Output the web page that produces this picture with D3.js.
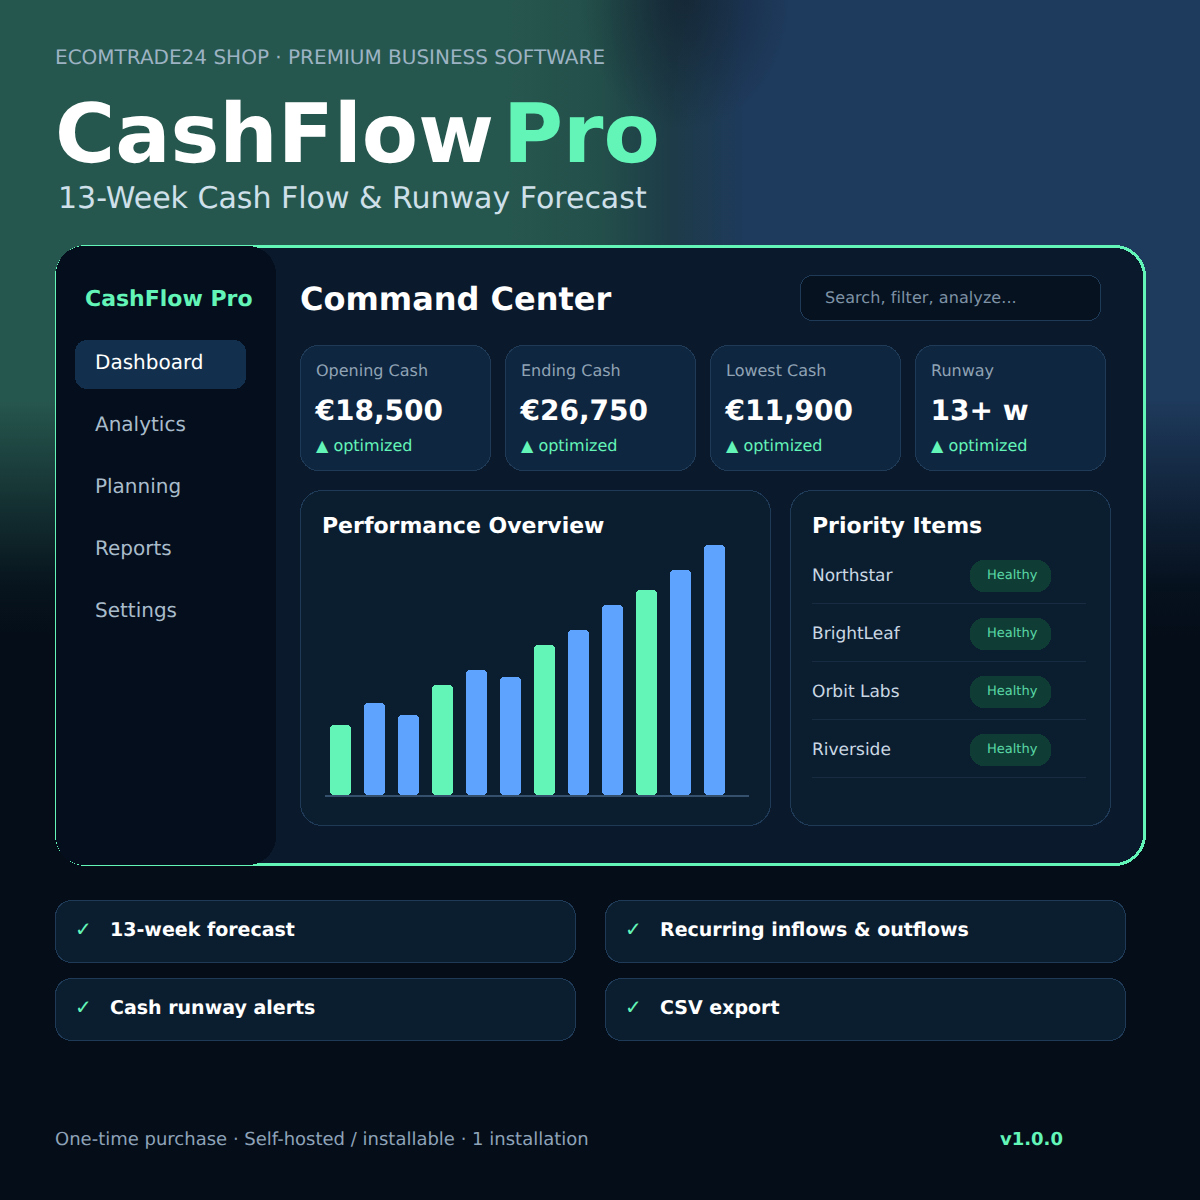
<!DOCTYPE html>
<html>
<head>
<meta charset="utf-8">
<script src="https://cdn.jsdelivr.net/npm/d3@7"></script>
<style>
  html, body { margin: 0; padding: 0; background: #040d18; }
  svg { display: block; }
  text { font-family: "DejaVu Sans", sans-serif; text-rendering: geometricPrecision; }
  rect, line { shape-rendering: crispEdges; }
</style>
</head>
<body>
<div id="chart"></div>
<script>
/**
 * Data
 */
const weeks = ["W1", "W2", "W3", "W4", "W5", "W6", "W7", "W8", "W9", "W10", "W11", "W12"];
const barValues = [70, 92, 80, 110, 125, 118, 150, 165, 190, 205, 225, 250];
const greenWeeks = ["W1", "W4", "W7", "W10"];
const navItems = ["Dashboard", "Analytics", "Planning", "Reports", "Settings"];
const kpiLabels = ["Opening Cash", "Ending Cash", "Lowest Cash", "Runway"];
const kpiValues = ["€18,500", "€26,750", "€11,900", "13+ w"];
const priorityNames = ["Northstar", "BrightLeaf", "Orbit Labs", "Riverside"];
const features = ["13-week forecast", "Recurring inflows & outflows", "Cash runway alerts", "CSV export"];

const green = "#63f4b8";
const blue = "#5ea4ff";
const border = "#1e3a56";

const svg = d3.select("#chart").append("svg")
  .attr("width", 1200)
  .attr("height", 1200);

/**
 * Background
 */
const defs = svg.append("defs");

const sideGrad = defs.append("linearGradient").attr("id", "bgSide");
sideGrad.append("stop").attr("offset", "0").attr("stop-color", "#26574e");
sideGrad.append("stop").attr("offset", "0.42").attr("stop-color", "#26574e");
sideGrad.append("stop").attr("offset", "0.5").attr("stop-color", "#234f4a");
sideGrad.append("stop").attr("offset", "0.56").attr("stop-color", "#1d3b48");
sideGrad.append("stop").attr("offset", "0.62").attr("stop-color", "#1e3a5c");
sideGrad.append("stop").attr("offset", "1").attr("stop-color", "#1e3a5c");

const fadeGrad = defs.append("linearGradient").attr("id", "bgFade")
  .attr("x1", 0).attr("x2", 0).attr("y1", 0).attr("y2", 1);
fadeGrad.append("stop").attr("offset", "0").attr("stop-color", "#040d18").attr("stop-opacity", 0);
fadeGrad.append("stop").attr("offset", "0.333").attr("stop-color", "#040d18").attr("stop-opacity", 0);
fadeGrad.append("stop").attr("offset", "0.433").attr("stop-color", "#040d18").attr("stop-opacity", 0.6);
fadeGrad.append("stop").attr("offset", "0.489").attr("stop-color", "#040d18").attr("stop-opacity", 0.91);
fadeGrad.append("stop").attr("offset", "0.533").attr("stop-color", "#040d18").attr("stop-opacity", 1);
fadeGrad.append("stop").attr("offset", "1").attr("stop-color", "#040d18").attr("stop-opacity", 1);

const topGrad = defs.append("radialGradient").attr("id", "bgTop");
topGrad.append("stop").attr("offset", "0").attr("stop-color", "#101c2a").attr("stop-opacity", 0.6);
topGrad.append("stop").attr("offset", "1").attr("stop-color", "#101c2a").attr("stop-opacity", 0);

svg.append("rect").attr("width", 1200).attr("height", 1200).attr("fill", "url(#bgSide)");
svg.append("rect").attr("width", 1200).attr("height", 1200).attr("fill", "url(#bgFade)");
svg.append("ellipse")
  .attr("cx", 685).attr("cy", 0)
  .attr("rx", 105).attr("ry", 130)
  .attr("fill", "url(#bgTop)");

function label(parent, x, y, str, size, fill, weight) {
  return parent.append("text")
    .attr("x", x)
    .attr("y", y)
    .attr("font-size", size)
    .attr("font-weight", weight || "normal")
    .attr("fill", fill)
    .text(str);
}

function box(parent, x, y, w, h, r, fill, stroke) {
  return parent.append("rect")
    .attr("x", x).attr("y", y)
    .attr("width", w).attr("height", h)
    .attr("rx", r)
    .attr("fill", fill)
    .attr("stroke", stroke || "none");
}

/**
 * Header
 */
label(svg, 55, 64, "ECOMTRADE24 SHOP · PREMIUM BUSINESS SOFTWARE", 20, "#9db3c4");
label(svg, 55, 162, "CashFlow", 82, "#ffffff", "bold");
label(svg, 503, 162, "Pro", 82, green, "bold");
label(svg, 58, 208, "13-Week Cash Flow & Runway Forecast", 30, "#cfe0ea");

/**
 * Main panel and sidebar
 */
box(svg, 56.5, 246.5, 1088, 618, 30, "#0a1a2c", green).attr("stroke-width", 3);
box(svg, 56, 246, 220, 619, 28, "#040e1c");

label(svg, 85, 306, "CashFlow Pro", 22, green, "bold");
box(svg, 75, 340, 171, 49, 12, "#12304d");

svg.append("g").selectAll("text")
  .data(navItems)
  .join("text")
  .attr("x", 95)
  .attr("y", (d, i) => 369 + i * 62)
  .attr("font-size", 20)
  .attr("fill", (d, i) => i === 0 ? "#ffffff" : "#a9bccb")
  .text(d => d);

label(svg, 300, 310, "Command Center", 32, "#ffffff", "bold");
box(svg, 800.5, 275.5, 300, 45, 12, "#061220", border);
label(svg, 825, 303, "Search, filter, analyze...", 16, "#7f93a6")
  .attr("letter-spacing", 0.08);

/**
 * KPI cards
 */
const kpi = svg.append("g").selectAll("g")
  .data(kpiLabels)
  .join("g")
  .attr("transform", (d, i) => `translate(${300 + i * 205}, 345)`);

kpi.append("rect")
  .attr("x", 0.5).attr("y", 0.5)
  .attr("width", 190).attr("height", 125)
  .attr("rx", 18)
  .attr("fill", "#0f2640")
  .attr("stroke", border);
kpi.append("text")
  .attr("x", 16).attr("y", 31)
  .attr("font-size", 16)
  .attr("fill", "#8fa3b5")
  .text(d => d);
kpi.append("text")
  .attr("x", 15.5).attr("y", 75)
  .attr("font-size", 28)
  .attr("font-weight", "bold")
  .attr("fill", "#ffffff")
  .text((d, i) => kpiValues[i]);
kpi.append("text")
  .attr("x", 16).attr("y", 106)
  .attr("font-size", 16)
  .attr("fill", green)
  .text("▲ optimized");

/**
 * Performance Overview bars
 */
box(svg, 300.5, 490.5, 470, 335, 22, "#0a1e30", border);
label(svg, 322, 533, "Performance Overview", 22, "#ffffff", "bold");

const x = d3.scaleBand()
  .domain(weeks)
  .range([323.5, 731.5])
  .paddingInner(13 / 34)
  .paddingOuter(6.5 / 34);

const y = d3.scaleLinear()
  .domain([0, 250])
  .range([795, 545]);

svg.append("g").selectAll("rect")
  .data(barValues)
  .join("rect")
  .attr("x", (d, i) => x(weeks[i]))
  .attr("y", d => y(d))
  .attr("width", x.bandwidth())
  .attr("height", d => y(0) - y(d))
  .attr("rx", 4)
  .attr("fill", (d, i) => greenWeeks.includes(weeks[i]) ? green : blue);

svg.append("line")
  .attr("x1", 325).attr("x2", 749)
  .attr("y1", 796).attr("y2", 796)
  .attr("stroke", "#34506c")
  .attr("stroke-width", 2);

/**
 * Priority Items
 */
box(svg, 790.5, 490.5, 320, 335, 22, "#0a1e30", border);
label(svg, 812, 533, "Priority Items", 22, "#ffffff", "bold");

const row = svg.append("g").selectAll("g")
  .data(priorityNames)
  .join("g")
  .attr("transform", (d, i) => `translate(812, ${560 + i * 58})`);

row.append("text")
  .attr("x", 0).attr("y", 21)
  .attr("font-size", 17)
  .attr("fill", "#cbd8e3")
  .text(d => d);
row.append("rect")
  .attr("x", 158).attr("y", 0)
  .attr("width", 81).attr("height", 32)
  .attr("rx", 14)
  .attr("fill", "#0f3d35");
row.append("text")
  .attr("x", 175).attr("y", 19)
  .attr("font-size", 13)
  .attr("fill", "#5ad7a5")
  .text("Healthy");
row.append("line")
  .attr("x1", 0).attr("x2", 274)
  .attr("y1", 43.5).attr("y2", 43.5)
  .attr("stroke", "#172c40");

/**
 * Feature list
 */
const feature = svg.append("g").selectAll("g")
  .data(features)
  .join("g")
  .attr("transform", (d, i) => `translate(${55 + (i % 2) * 550}, ${900 + Math.floor(i / 2) * 78})`);

feature.append("rect")
  .attr("x", 0.5).attr("y", 0.5)
  .attr("width", 520).attr("height", 62)
  .attr("rx", 16)
  .attr("fill", "#0b1e30")
  .attr("stroke", border);
feature.append("text")
  .attr("x", 20).attr("y", 36)
  .attr("font-size", 20)
  .attr("fill", green)
  .text("✓");
feature.append("text")
  .attr("x", 55).attr("y", 36)
  .attr("font-size", 19)
  .attr("font-weight", "bold")
  .attr("fill", "#ffffff")
  .text(d => d);

/**
 * Footer
 */
label(svg, 55, 1145, "One-time purchase · Self-hosted / installable · 1 installation", 18, "#8fa3b8");
label(svg, 1000, 1145, "v1.0.0", 18, green, "bold");
</script>
</body>
</html>
